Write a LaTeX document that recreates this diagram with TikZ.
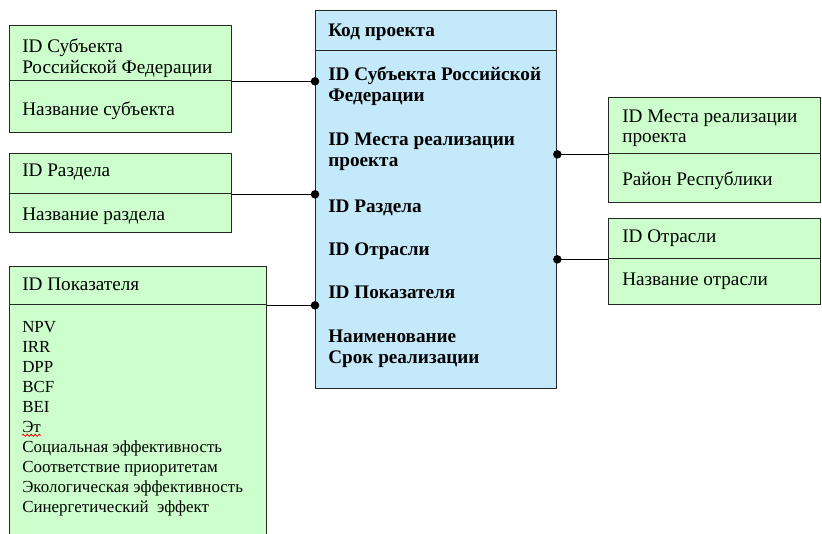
\documentclass[tikz,border=0pt]{standalone}
\usepackage{fontspec}
\setmainfont{Liberation Serif}
\usetikzlibrary{decorations.pathmorphing}

\definecolor{entgreen}{RGB}{204,255,204}
\definecolor{entblue}{RGB}{196,233,250}

\begin{document}
\begin{tikzpicture}[x=0.75pt,y=-0.75pt,
    box/.style 2 args={draw=black!85,line width=1pt,rectangle,inner sep=0pt,
      anchor=north west,minimum width=#1*0.75pt,minimum height=#2*0.75pt},
    attr/.style={anchor=base west,inner sep=0pt,font=\fontsize{14.4}{16}\selectfont},
    keyattr/.style={attr,font=\fontsize{14.4}{16}\selectfont\bfseries},
    item/.style={attr,font=\fontsize{12.7}{15}\selectfont},
    link/.style={draw=black,line width=1pt},
    joint/.style={fill=black}]
    \clip (0,0) rectangle (822,533);

    % Project table in the middle
    \node[box={241}{40},fill=entblue] (projHead) at (315,10) {};
    \node[box={241}{338},fill=entblue] (projBody) at (315,50) {};
    \node[keyattr] (pCode) at (328,36) {Код проекта};
    \node[keyattr] (pSubj) at (328,80) {ID Субъекта Российской};
    \node[keyattr] (pSubj2) at (328,101) {Федерации};
    \node[keyattr] (pPlace) at (328,145) {ID Места реализации};
    \node[keyattr] (pPlace2) at (328,166) {проекта};
    \node[keyattr] (pSect) at (328,212) {ID Раздела};
    \node[keyattr] (pBranch) at (328,255) {ID Отрасли};
    \node[keyattr] (pInd) at (328,298) {ID Показателя};
    \node[keyattr] (pName) at (328,342) {Наименование};
    \node[keyattr] (pTerm) at (328,363) {Срок реализации};

    % Subjects of the federation
    \node[box={222}{55},fill=entgreen] (subjTop) at (9,25) {};
    \node[box={222}{52},fill=entgreen] (subjBot) at (9,80) {};
    \node[attr] (sId) at (22,52) {ID Субъекта};
    \node[attr] (sId2) at (22,73) {Российской Федерации};
    \node[attr] (sName) at (22,115) {Название субъекта};

    % Sections
    \node[box={222}{40},fill=entgreen] (sectTop) at (9,153) {};
    \node[box={222}{39},fill=entgreen] (sectBot) at (9,193) {};
    \node[attr] (cId) at (22,176) {ID Раздела};
    \node[attr] (cName) at (22,220) {Название раздела};

    % Indicators
    \node[box={257}{38},fill=entgreen] (indTop) at (9,266) {};
    \node[box={257}{250},fill=entgreen] (indBot) at (9,304) {};
    \node[attr] (iId) at (22,290) {ID Показателя};
    \foreach \t [count=\i] in {NPV,IRR,DPP,BCF,BEI,Эт,Социальная эффективность,
        Соответствие приоритетам,Экологическая эффективность,Синергетический\ \ эффект}
      \node[item] (ind\i) at (22,312+20*\i) {\t};
    \draw[red,line width=0.6pt,decorate,
      decoration={snake,amplitude=0.8pt,segment length=3pt}]
      ([yshift=-2.5pt]ind6.base west) -- ([yshift=-2.5pt]ind6.base east);

    % Places of realisation
    \node[box={212}{56},fill=entgreen] (placeTop) at (608,97) {};
    \node[box={212}{49},fill=entgreen] (placeBot) at (608,153) {};
    \node[attr] (lId) at (622,122) {ID Места реализации};
    \node[attr] (lId2) at (622,142) {проекта};
    \node[attr] (lName) at (622,185) {Район Республики};

    % Branches
    \node[box={212}{40},fill=entgreen] (branchTop) at (608,218) {};
    \node[box={212}{46},fill=entgreen] (branchBot) at (608,258) {};
    \node[attr] (bId) at (622,242) {ID Отрасли};
    \node[attr] (bName) at (622,285) {Название отрасли};

    % Links to the project table
    \draw[link] (subjTop.south east) -- (projBody.west |- subjTop.south east)
      coordinate (j1);
    \draw[link] (sectTop.south east) -- (projBody.west |- sectTop.south east)
      coordinate (j2);
    \draw[link] (indTop.south east) -- (projBody.west |- indTop.south east)
      coordinate (j3);
    \draw[link] (placeTop.south west) -- (projBody.east |- placeTop.south west)
      coordinate (j4);
    \draw[link] (branchTop.south west) -- (projBody.east |- branchTop.south west)
      coordinate (j5);
    \foreach \j in {j1,j2,j3,j4,j5}
      \fill[joint] (\j) circle (3.2pt);
\end{tikzpicture}
\end{document}
